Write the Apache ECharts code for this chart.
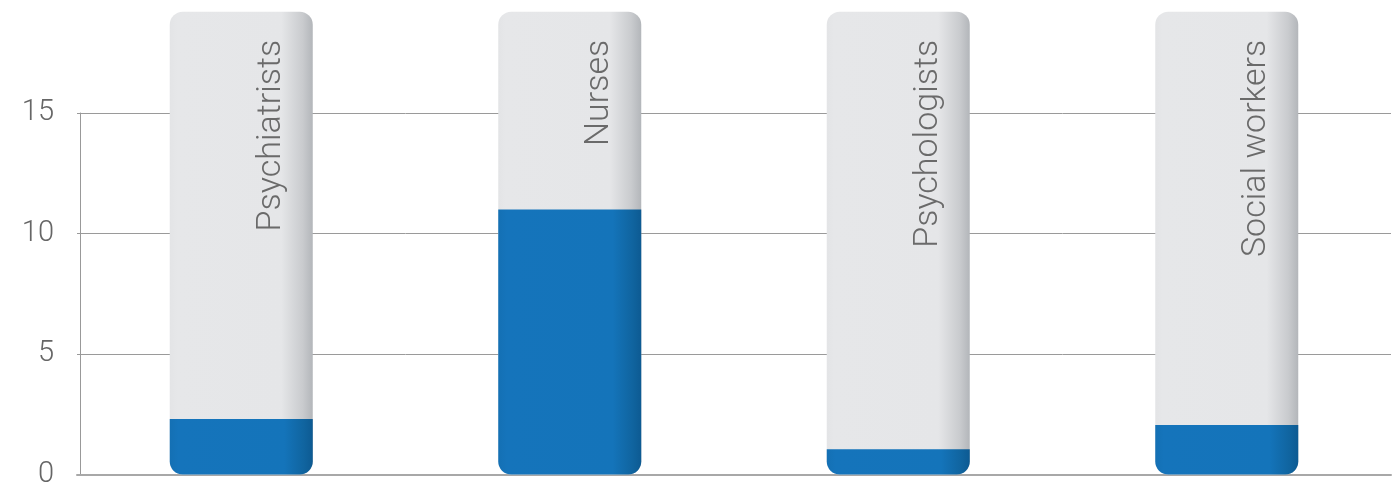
<!DOCTYPE html>
<html>
<head>
<meta charset="utf-8">
<script src="https://cdn.jsdelivr.net/npm/echarts@6/dist/echarts.min.js"></script>
<style>
  html, body { margin: 0; padding: 0; background: #ffffff; }
  #chart { width: 1399px; height: 489px; }
</style>
</head>
<body>
<div id="chart"></div>
<script>
// Professions shown along the category axis
const categories = ['Psychiatrists', 'Nurses', 'Psychologists', 'Social workers'];
// Measured value for each profession (blue fill)
const values = [2.3, 11.0, 1.05, 2.05];
// Height of the grey capsule behind each bar
const capsule = [19.2, 19.2, 19.2, 19.2];
// Value-axis ticks
const yMin = 0, yMax = 15, yStep = 5;

const chart = echarts.init(document.getElementById('chart'), null, { renderer: 'canvas' });

const greyFill = new echarts.graphic.LinearGradient(0, 0, 1, 0, [
  { offset: 0, color: '#e3e4e6' },
  { offset: 0.05, color: '#e6e7e9' },
  { offset: 0.78, color: '#e5e6e8' },
  { offset: 0.93, color: '#c9cbce' },
  { offset: 1, color: '#b3b6ba' }
]);
const blueFill = new echarts.graphic.LinearGradient(0, 0, 1, 0, [
  { offset: 0, color: '#1470b4' },
  { offset: 0.06, color: '#1574bb' },
  { offset: 0.8, color: '#1474ba' },
  { offset: 0.94, color: '#10649f' },
  { offset: 1, color: '#0d5a92' }
]);

chart.setOption({
  animation: false,
  grid: { left: 77, right: 8, top: 113, bottom: 12 },
  xAxis: {
    type: 'category',
    data: categories,
    axisLine: { show: true, lineStyle: { color: '#a8a8a8', width: 2 } },
    axisTick: { show: false },
    axisLabel: { show: false },
    splitLine: { show: false }
  },
  yAxis: {
    type: 'value',
    min: yMin,
    max: yMax,
    interval: yStep,
    offset: -3,
    axisLine: { show: true, lineStyle: { color: '#999999', width: 1 } },
    axisTick: { show: false },
    axisLabel: {
      fontSize: 29,
      color: '#666666',
      fontFamily: 'Roboto',
      fontWeight: 300,
      margin: 26,
      verticalAlign: 'middle'
    },
    splitLine: { show: true, lineStyle: { color: '#9a9a9a', width: 1 } }
  },
  series: [
    {
      type: 'bar',
      data: capsule,
      barWidth: 143,
      barGap: '-100%',
      clip: false,
      silent: true,
      itemStyle: { color: greyFill, borderRadius: 13 },
      label: {
        show: true,
        formatter: function (p) { return categories[p.dataIndex]; },
        position: ['71%', 28],
        rotate: 90,
        align: 'right',
        verticalAlign: 'middle',
        fontSize: 34,
        fontFamily: 'Roboto',
        fontWeight: 300,
        color: '#6a6a6a'
      },
      z: 2
    },
    {
      type: 'bar',
      data: values,
      barWidth: 143,
      clip: false,
      silent: true,
      itemStyle: {
        color: blueFill,
        borderRadius: [0, 0, 13, 13]
      },
      z: 3
    }
  ]
});
</script>
</body>
</html>
